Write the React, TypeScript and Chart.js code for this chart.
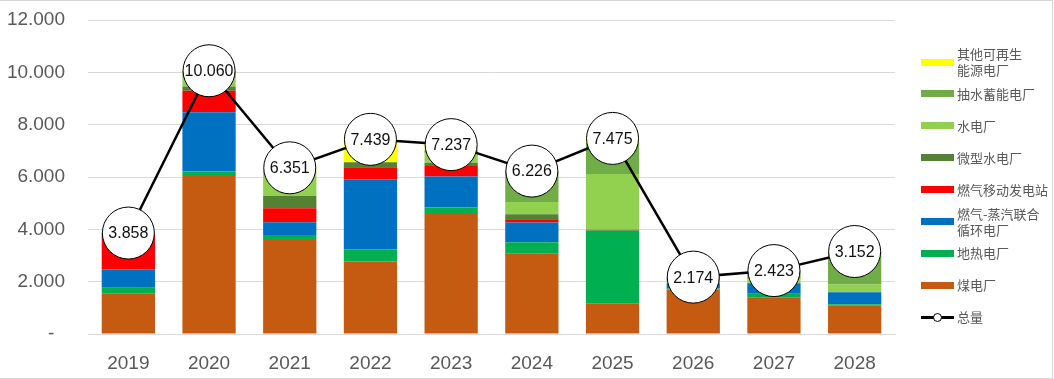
import React, { useEffect, useRef } from "react";
import { Chart, registerables } from "chart.js";

Chart.register(...registerables);

const years = ["2019", "2020", "2021", "2022", "2023", "2024", "2025", "2026", "2027", "2028"];

const coal = [1556, 6080, 3633, 2766, 4589, 3084, 1173, 1705, 1389, 1084];
const geothermal = [215, 127, 153, 471, 242, 422, 2779, 30, 153, 50];
const ccgt = [703, 2271, 485, 2677, 1185, 752, 0, 200, 395, 459];
const gasMobile = [1384, 815, 535, 459, 408, 101, 30, 0, 0, 0];
const microHydro = [0, 164, 471, 192, 120, 217, 0, 0, 0, 0];
const hydro = [0, 303, 950, 0, 350, 472, 2137, 100, 150, 294];
const pumped = [0, 300, 0, 0, 143, 1178, 1181, 139, 336, 1265];
const otherRenew = [0, 0, 124, 874, 200, 0, 175, 0, 0, 0];
const totals = [3858, 10060, 6351, 7439, 7237, 6226, 7475, 2174, 2423, 3152];
const totalLabels = ["3.858", "10.060", "6.351", "7.439", "7.237", "6.226", "7.475", "2.174", "2.423", "3.152"];

const yTicks = [0, 2000, 4000, 6000, 8000, 10000, 12000];
const yTickLabels = ["-  ", "2.000", "4.000", "6.000", "8.000", "10.000", "12.000"];

const barSeries = [
  { name: "煤电厂", data: coal, color: "#C55A11" },
  { name: "地热电厂", data: geothermal, color: "#00B050" },
  { name: "燃气-蒸汽联合循环电厂", data: ccgt, color: "#0070C0" },
  { name: "燃气移动发电站", data: gasMobile, color: "#FF0000" },
  { name: "微型水电厂", data: microHydro, color: "#548235" },
  { name: "水电厂", data: hydro, color: "#92D050" },
  { name: "抽水蓄能电厂", data: pumped, color: "#70AD47" },
  { name: "其他可再生能源电厂", data: otherRenew, color: "#FFFF00" },
];

const legendItems = [
  { lines: ["其他可再生", "能源电厂"], color: "#FFFF00" },
  { lines: ["抽水蓄能电厂"], color: "#70AD47" },
  { lines: ["水电厂"], color: "#92D050" },
  { lines: ["微型水电厂"], color: "#548235" },
  { lines: ["燃气移动发电站"], color: "#FF0000" },
  { lines: ["燃气-蒸汽联合", "循环电厂"], color: "#0070C0" },
  { lines: ["地热电厂"], color: "#00B050" },
  { lines: ["煤电厂"], color: "#C55A11" },
  { lines: ["总量"], color: "line" },
];

const pointLabelPlugin = {
  id: "pointLabels",
  afterDatasetsDraw(chart: any) {
    const ctx = chart.ctx;
    const idx = chart.data.datasets.findIndex((d: any) => d.type === "line");
    if (idx < 0) return;
    const meta = chart.getDatasetMeta(idx);
    ctx.save();
    ctx.font = "16px 'Liberation Sans', Arial, sans-serif";
    ctx.fillStyle = "#111111";
    ctx.textAlign = "center";
    ctx.textBaseline = "middle";
    meta.data.forEach((pt: any, i: number) => {
      ctx.fillText(totalLabels[i], pt.x, pt.y + 1);
    });
    ctx.restore();
  },
};

export default function App() {
  const canvasRef = useRef<HTMLCanvasElement | null>(null);

  useEffect(() => {
    document.body.style.margin = "0";
    const canvas = canvasRef.current;
    if (!canvas) return;
    const datasets: any[] = [
      {
        type: "line",
        label: "总量",
        data: totals,
        borderColor: "#000000",
        borderWidth: 2.5,
        pointRadius: 26,
        pointHoverRadius: 26,
        pointBackgroundColor: "#FFFFFF",
        pointBorderColor: "#000000",
        pointBorderWidth: 1,
        tension: 0,
        clip: false,
        stack: "total",
        order: 0,
      },
      ...barSeries.map((s) => ({
        type: "bar",
        label: s.name,
        data: s.data,
        backgroundColor: s.color,
        borderWidth: 0,
        categoryPercentage: 1,
        barPercentage: 0.66,
        stack: "plants",
        order: 1,
      })),
    ];
    const chart = new Chart(canvas, {
      type: "bar",
      data: { labels: years, datasets },
      options: {
        responsive: false,
        animation: false,
        layout: { autoPadding: false, padding: { top: 20, right: 159, left: 0, bottom: 0 } },
        plugins: {
          legend: { display: false },
          tooltip: { enabled: false },
        },
        scales: {
          x: {
            stacked: true,
            grid: { display: false },
            border: { display: true, color: "#D9D9D9", width: 1 },
            ticks: {
              color: "#595959",
              font: { family: "'Liberation Sans', Arial, sans-serif", size: 19 },
              padding: 10,
            },
            afterFit: (scale: any) => {
              scale.height = 45;
            },
          },
          y: {
            stacked: true,
            min: 0,
            max: 12000,
            afterBuildTicks: (scale: any) => {
              scale.ticks = yTicks.map((v) => ({ value: v }));
            },
            grid: { color: "#D9D9D9", drawTicks: true, tickLength: 23, tickColor: "rgba(0,0,0,0)", lineWidth: 1 },
            border: { display: false },
            ticks: {
              color: "#595959",
              font: { family: "'Liberation Sans', Arial, sans-serif", size: 19 },
              padding: 0,
              callback: (v: any) => {
                const i = yTicks.indexOf(Number(v));
                return i >= 0 ? yTickLabels[i] : "";
              },
            },
            afterFit: (scale: any) => {
              scale.width = 88;
            },
          },
        },
      } as any,
      plugins: [pointLabelPlugin],
    });
    return () => chart.destroy();
  }, []);

  return (
    <div style={{ position: "absolute", left: 0, top: 0, width: 1054, height: 379, background: "#FFFFFF", overflow: "hidden" }}>
      <canvas ref={canvasRef} width={1054} height={379} style={{ position: "absolute", left: 0, top: 0 }} />
      {legendItems.map((item, i) => (
        <div
          key={i}
          style={{
            position: "absolute",
            left: 921,
            top: 62 + i * 31.9,
            transform: "translateY(-50%)",
            display: "flex",
            alignItems: "center",
            fontFamily: "'Noto Sans CJK SC', sans-serif",
            fontSize: 13,
            lineHeight: "16px",
            color: "#595959",
            whiteSpace: "nowrap",
          }}
        >
          {item.color === "line" ? (
            <div style={{ position: "relative", width: 33, height: 9, marginRight: 3 }}>
              <div style={{ position: "absolute", left: 0, top: 3.5, width: 33, height: 2.5, background: "#000" }} />
              <div style={{ position: "absolute", left: 12, top: 0, width: 7, height: 7, borderRadius: "50%", background: "#fff", border: "1px solid #000" }} />
            </div>
          ) : (
            <div style={{ width: 33, height: 7, background: item.color, marginRight: 3 }} />
          )}
          <div>
            {item.lines.map((l, j) => (
              <div key={j}>{l}</div>
            ))}
          </div>
        </div>
      ))}
      <div
        style={{
          position: "absolute",
          left: 0,
          top: 0,
          width: 1052,
          height: 377,
          borderTop: "1px solid #D9D9D9",
          borderRight: "1px solid #D9D9D9",
          borderBottom: "1px solid #D9D9D9",
          pointerEvents: "none",
        }}
      />
    </div>
  );
}
